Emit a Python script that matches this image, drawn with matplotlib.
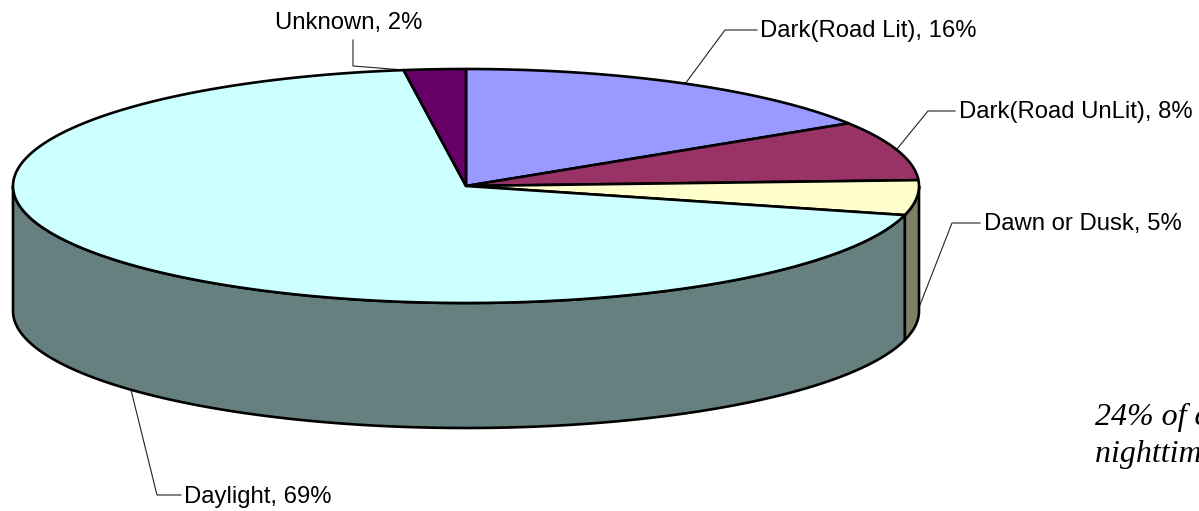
#!/usr/bin/env python3
import matplotlib
matplotlib.use('Agg')
import matplotlib.pyplot as plt
import numpy as np

categories = ['Dark(Road Lit)', 'Dark(Road UnLit)', 'Dawn or Dusk', 'Daylight', 'Unknown']
values = [16, 8.2, 4.8, 68.8, 2.2]
top_colors = ['#9999FF', '#993366', '#FFFFCC', '#CCFFFF', '#660066']
side_colors = ['#66667F', '#66334C', '#7F7F66', '#668080', '#330033']
note_lines = ['24% of crashes occur during', 'nighttime hours']

# layout of the fake 3d pie, in pixels
cx, cy = 466, 186
rx, ry = 453, 117
depth = 125
edge_w = 1.9

label_pos = [(760, 31), (959, 112), (984, 224), (184, 497), (275, 23)]
leaders = [
    [(685, 84), (725, 30), (757, 30)],
    [(897, 149), (928, 111), (955, 111)],
    [(918, 310), (952, 223), (980, 223)],
    [(131, 390), (157, 495), (181, 495)],
    [(353, 40), (353, 66), (404, 70)],
]


def rim(a0, a1, dy=0):
    # a0, a1 are clockwise fractions of the pie measured from 12 o'clock
    t = np.linspace(a0, a1, 200) * 2 * np.pi
    return cx + rx * np.sin(t), cy + dy - ry * np.cos(t)


def draw_side(ax, a0, a1, color):
    x, y = rim(a0, a1)
    xb, yb = rim(a0, a1, depth)
    ax.fill(np.r_[x, xb[::-1]], np.r_[y, yb[::-1]], facecolor=color,
            edgecolor='black', linewidth=edge_w, joinstyle='round', zorder=2)


def main():
    fig = plt.figure(figsize=(11.99, 5.11), dpi=100)
    ax = fig.add_axes([0, 0, 1, 1])
    ax.set_xlim(0, 1199)
    ax.set_ylim(511, 0)
    ax.axis('off')

    total = sum(values)
    stops = np.cumsum([0] + values) / total

    # only the front half of the rim shows, from 3 o'clock to 9 o'clock
    for i in range(len(values)):
        a0 = max(stops[i], 0.25)
        a1 = min(stops[i + 1], 0.75)
        if a0 < a1:
            draw_side(ax, a0, a1, side_colors[i])

    for i in range(len(values)):
        x, y = rim(stops[i], stops[i + 1])
        ax.fill(np.r_[cx, x], np.r_[cy, y], facecolor=top_colors[i],
                edgecolor='black', linewidth=edge_w, joinstyle='round', zorder=3)

    for i, name in enumerate(categories):
        xs, ys = zip(*leaders[i])
        ax.plot(xs, ys, color='#222222', linewidth=0.8, zorder=1)
        ax.text(label_pos[i][0], label_pos[i][1], '%s, %.0f%%' % (name, values[i]),
                family='Liberation Sans', fontsize=17.2, color='black',
                ha='left', va='center', zorder=4)

    ax.text(1095, 425, note_lines[0], family='Liberation Serif', style='italic',
            fontsize=23, ha='left', va='baseline')
    ax.text(1095, 462, note_lines[1], family='Liberation Serif', style='italic',
            fontsize=23, ha='left', va='baseline')

    fig.savefig('out.png', dpi=100, facecolor='white')


if __name__ == '__main__':
    main()
